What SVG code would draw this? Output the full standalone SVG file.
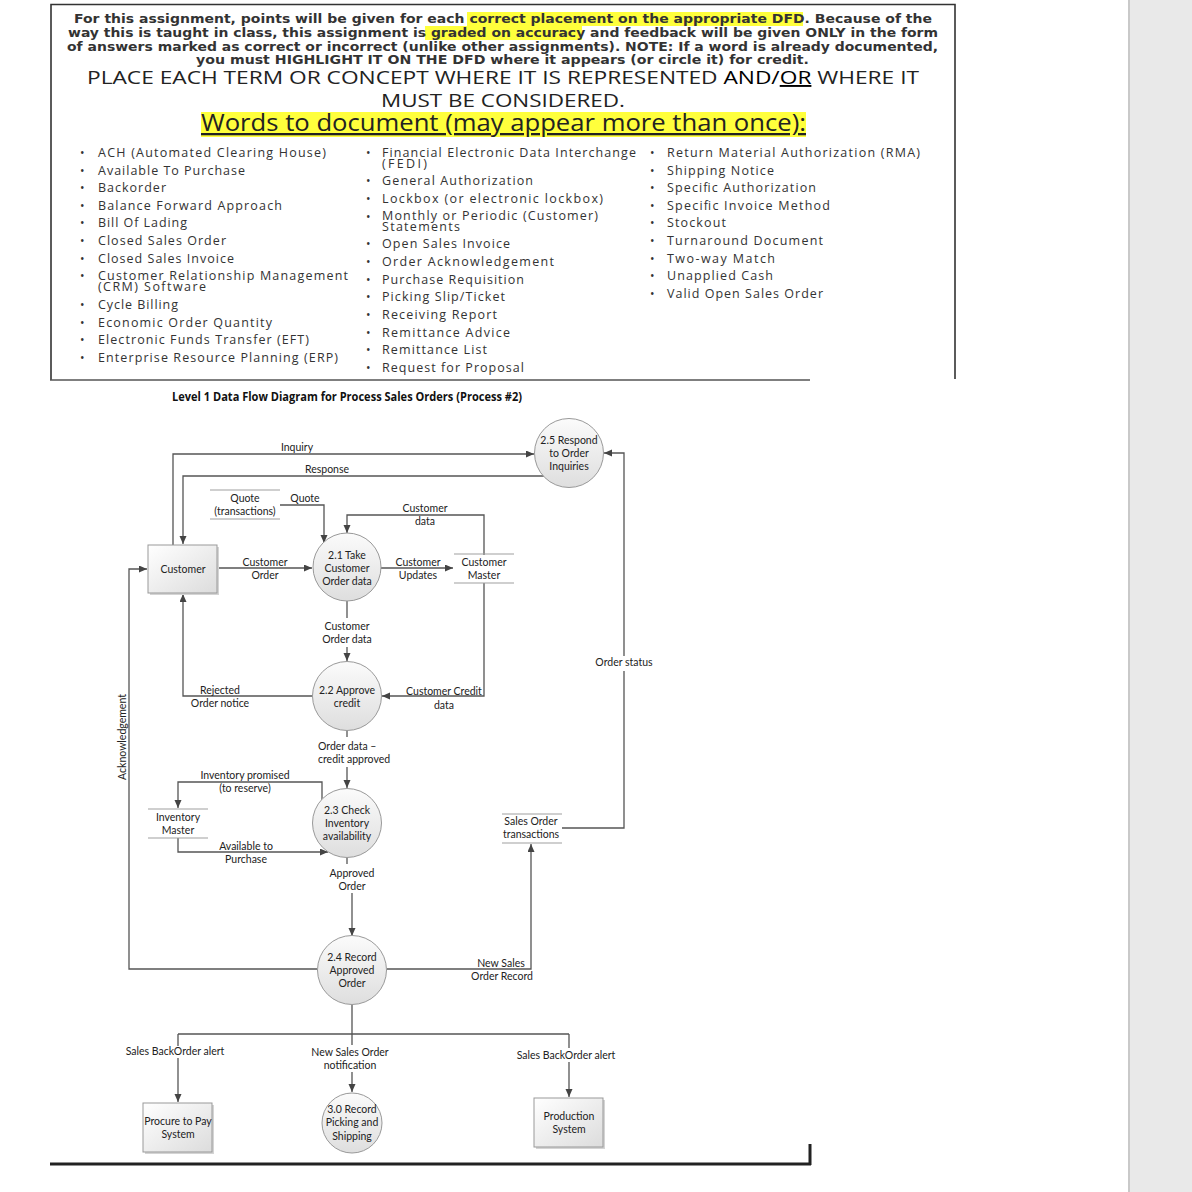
<svg xmlns="http://www.w3.org/2000/svg" width="1192" height="1192" viewBox="0 0 1192 1192">
<defs>
<linearGradient id="gc" x1="0" y1="0" x2="0" y2="1"><stop offset="0" stop-color="#fbfbfb"/><stop offset="1" stop-color="#dedede"/></linearGradient>
<linearGradient id="gb" x1="0" y1="0" x2="1" y2="1"><stop offset="0" stop-color="#ffffff"/><stop offset="1" stop-color="#dcdcdc"/></linearGradient>
<marker id="ar" markerUnits="userSpaceOnUse" markerWidth="9" markerHeight="8" refX="8" refY="3.5" orient="auto"><path d="M0,0 L8,3.5 L0,7 z" fill="#444"/></marker>
</defs>
<style>
.hd{font-family:"DejaVu Sans",Verdana,sans-serif;font-weight:bold;font-size:12.5px;fill:#333}
.big{font-family:"Open Sans","Noto Sans",sans-serif;fill:#222}
.li{font-family:"Open Sans","Noto Sans",sans-serif;font-size:12.5px;fill:#333}
.bu{font-family:"Open Sans",sans-serif;font-size:12px;fill:#333}
.t{font-family:Lato,"Liberation Sans",sans-serif;font-size:10.5px;fill:#222;text-anchor:middle}
.c{fill:none;stroke:#555;stroke-width:1.3}
.ca{fill:none;stroke:#555;stroke-width:1.3;marker-end:url(#ar)}
.st{stroke:#a0a0a0;stroke-width:1.2}
.proc{fill:url(#gc);stroke:#999;stroke-width:1}
.ent{fill:url(#gb);stroke:#999;stroke-width:1}
</style>
<rect x="0" y="0" width="1192" height="1192" fill="#fff"/>
<rect x="1128" y="0" width="64" height="1192" fill="#e9e9e9"/>
<rect x="1128" y="0" width="2" height="1192" fill="#c9c9c9"/>

<g id="header">
<path d="M51,380 V4.5 H955 V379" fill="none" stroke="#333" stroke-width="1.6"/>
<line x1="50" y1="380" x2="810" y2="380" stroke="#555" stroke-width="1.3"/>
<rect x="467" y="12" width="336" height="14" fill="#ffff3c"/>
<rect x="425" y="26" width="157" height="14" fill="#ffff3c"/>
<text class="hd" x="74" y="23" textLength="858" lengthAdjust="spacingAndGlyphs">For this assignment, points will be given for each correct placement on the appropriate DFD.  Because of the</text>
<text class="hd" x="68" y="37" textLength="870" lengthAdjust="spacingAndGlyphs">way this is taught in class, this assignment is graded on accuracy and feedback will be given ONLY in the form</text>
<text class="hd" x="67" y="51" textLength="871" lengthAdjust="spacingAndGlyphs">of answers marked as correct or incorrect (unlike other assignments).  NOTE: If a word is already documented,</text>
<text class="hd" x="196" y="64" textLength="613" lengthAdjust="spacingAndGlyphs">you must HIGHLIGHT IT ON THE DFD where it appears (or circle it) for credit.</text>
<text class="big" x="87" y="84" font-size="19" textLength="832" lengthAdjust="spacingAndGlyphs">PLACE EACH TERM OR CONCEPT WHERE IT IS REPRESENTED <tspan fill="#000">AND/<tspan text-decoration="underline">OR</tspan></tspan> WHERE IT</text>
<text class="big" x="381" y="107" font-size="19" textLength="244" lengthAdjust="spacingAndGlyphs">MUST BE CONSIDERED.</text>
<rect x="201" y="112" width="605" height="25" fill="#ffff3c"/>
<text class="big" x="201" y="131" font-size="23" fill="#2e3640" textLength="605" lengthAdjust="spacingAndGlyphs" text-decoration="underline">Words to document (may appear more than once):</text>
</g>

<g id="list1">
<text class="bu" x="80" y="157">•</text><text class="li" x="98" y="157" textLength="228">ACH (Automated Clearing House)</text>
<text class="bu" x="80" y="175">•</text><text class="li" x="98" y="175" textLength="147">Available To Purchase</text>
<text class="bu" x="80" y="192">•</text><text class="li" x="98" y="192" textLength="68">Backorder</text>
<text class="bu" x="80" y="210">•</text><text class="li" x="98" y="210" textLength="184">Balance Forward Approach</text>
<text class="bu" x="80" y="227">•</text><text class="li" x="98" y="227" textLength="89">Bill Of Lading</text>
<text class="bu" x="80" y="245">•</text><text class="li" x="98" y="245" textLength="128">Closed Sales Order</text>
<text class="bu" x="80" y="263">•</text><text class="li" x="98" y="263" textLength="136">Closed Sales Invoice</text>
<text class="bu" x="80" y="280">•</text><text class="li" x="98" y="280" textLength="250">Customer Relationship Management</text>
<text class="li" x="98" y="291" textLength="108">(CRM) Software</text>
<text class="bu" x="80" y="309">•</text><text class="li" x="98" y="309" textLength="80">Cycle Billing</text>
<text class="bu" x="80" y="327">•</text><text class="li" x="98" y="327" textLength="174">Economic Order Quantity</text>
<text class="bu" x="80" y="344">•</text><text class="li" x="98" y="344" textLength="211">Electronic Funds Transfer (EFT)</text>
<text class="bu" x="80" y="362">•</text><text class="li" x="98" y="362" textLength="240">Enterprise Resource Planning (ERP)</text>
</g>

<g id="list2">
<text class="bu" x="366" y="157">•</text><text class="li" x="382" y="157" textLength="254">Financial Electronic Data Interchange</text>
<text class="li" x="382" y="168" textLength="45">(FEDI)</text>
<text class="bu" x="366" y="185">•</text><text class="li" x="382" y="185" textLength="151">General Authorization</text>
<text class="bu" x="366" y="203">•</text><text class="li" x="382" y="203" textLength="221">Lockbox (or electronic lockbox)</text>
<text class="bu" x="366" y="221">•</text><text class="li" x="382" y="220" textLength="216">Monthly or Periodic (Customer)</text>
<text class="li" x="382" y="231" textLength="78">Statements</text>
<text class="bu" x="366" y="248">•</text><text class="li" x="382" y="248" textLength="128">Open Sales Invoice</text>
<text class="bu" x="366" y="266">•</text><text class="li" x="382" y="266" textLength="172">Order Acknowledgement</text>
<text class="bu" x="366" y="284">•</text><text class="li" x="382" y="284" textLength="142">Purchase Requisition</text>
<text class="bu" x="366" y="301">•</text><text class="li" x="382" y="301" textLength="123">Picking Slip/Ticket</text>
<text class="bu" x="366" y="319">•</text><text class="li" x="382" y="319" textLength="115">Receiving Report</text>
<text class="bu" x="366" y="337">•</text><text class="li" x="382" y="337" textLength="128">Remittance Advice</text>
<text class="bu" x="366" y="354">•</text><text class="li" x="382" y="354" textLength="105">Remittance List</text>
<text class="bu" x="366" y="372">•</text><text class="li" x="382" y="372" textLength="142">Request for Proposal</text>
</g>

<g id="list3">
<text class="bu" x="650" y="157">•</text><text class="li" x="667" y="157" textLength="253">Return Material Authorization (RMA)</text>
<text class="bu" x="650" y="175">•</text><text class="li" x="667" y="175" textLength="107">Shipping Notice</text>
<text class="bu" x="650" y="192">•</text><text class="li" x="667" y="192" textLength="149">Specific Authorization</text>
<text class="bu" x="650" y="210">•</text><text class="li" x="667" y="210" textLength="163">Specific Invoice Method</text>
<text class="bu" x="650" y="227">•</text><text class="li" x="667" y="227" textLength="59">Stockout</text>
<text class="bu" x="650" y="245">•</text><text class="li" x="667" y="245" textLength="156">Turnaround Document</text>
<text class="bu" x="650" y="263">•</text><text class="li" x="667" y="263" textLength="108">Two-way Match</text>
<text class="bu" x="650" y="280">•</text><text class="li" x="667" y="280" textLength="106">Unapplied Cash</text>
<text class="bu" x="650" y="298">•</text><text class="li" x="667" y="298" textLength="156">Valid Open Sales Order</text>
</g>

<g id="title">
<text x="172" y="401" font-family="'Open Sans',sans-serif" font-weight="bold" font-size="11.5" fill="#111" textLength="350" lengthAdjust="spacingAndGlyphs">Level 1 Data Flow Diagram for Process Sales Orders (Process #2)</text>
</g>

<g id="connectors">
<path class="ca" d="M173,545 V454 H534"/>
<path class="ca" d="M544,476 H183 V544"/>
<path class="ca" d="M280,505 H324 V543"/>
<path class="ca" d="M484,555 V515 H347 V533"/>
<path class="ca" d="M218,568 H312"/>
<path class="ca" d="M381,568 H453"/>
<path class="c" d="M562,828 H624 V671"/>
<path class="ca" d="M624,656 V453 H604"/>
<path class="c" d="M347,601 V618"/>
<path class="ca" d="M347,647 V661"/>
<path class="ca" d="M484,583 V696 H382"/>
<path class="ca" d="M312,696 H183 V594"/>
<path class="c" d="M347,730 V737"/>
<path class="ca" d="M347,767 V788"/>
<path class="ca" d="M322,800 V782 H178 V808"/>
<path class="ca" d="M178,838 V852 H328"/>
<path class="c" d="M347,858 V864"/>
<path class="ca" d="M352,893 V936"/>
<path class="ca" d="M317,969 H129 V569 H147"/>
<path class="ca" d="M387,969 H531 V844"/>
<path class="c" d="M352,1005 V1034 M178,1034 H569 M178,1034 V1046 M569,1034 V1048 M352,1034 V1045"/>
<path class="ca" d="M178,1058 V1102"/>
<path class="ca" d="M352,1072 V1092"/>
<path class="ca" d="M569,1062 V1097"/>
</g>

<g id="labels">
<text class="t" x="297" y="451">Inquiry</text>
<text class="t" x="327" y="473">Response</text>
<text class="t" x="305" y="502">Quote</text>
<text class="t" x="425" y="512">Customer</text><text class="t" x="425" y="525">data</text>
<text class="t" x="265" y="566">Customer</text><text class="t" x="265" y="579">Order</text>
<text class="t" x="418" y="566">Customer</text><text class="t" x="418" y="579">Updates</text>
<text class="t" x="624" y="666">Order status</text>
<text class="t" x="347" y="630">Customer</text><text class="t" x="347" y="643">Order data</text>
<text class="t" x="444" y="695">Customer Credit</text><text class="t" x="444" y="709">data</text>
<text class="t" x="220" y="694">Rejected</text><text class="t" x="220" y="707">Order notice</text>
<text class="t" x="318" y="750" style="text-anchor:start">Order data –</text><text class="t" x="318" y="763" style="text-anchor:start">credit approved</text>
<text class="t" x="245" y="779">Inventory promised</text><text class="t" x="245" y="792">(to reserve)</text>
<text class="t" x="246" y="850">Available to</text><text class="t" x="246" y="863">Purchase</text>
<text class="t" x="352" y="877">Approved</text><text class="t" x="352" y="890">Order</text>
<text class="t" transform="translate(126,737) rotate(-90)">Acknowledgement</text>
<text class="t" x="501" y="967">New Sales</text><text class="t" x="502" y="980">Order Record</text>
<text class="t" x="175" y="1055">Sales BackOrder alert</text>
<text class="t" x="350" y="1056">New Sales Order</text><text class="t" x="350" y="1069">notification</text>
<text class="t" x="566" y="1059">Sales BackOrder alert</text>
</g>

<g id="customer">
<rect x="150" y="547" width="69" height="48" fill="#d4d4d4"/>
<rect class="ent" x="148" y="545" width="69" height="48"/>
<text class="t" x="183" y="573">Customer</text>
</g>
<g id="quote-store">
<line class="st" x1="210" y1="490" x2="280" y2="490"/><line class="st" x1="210" y1="519" x2="280" y2="519"/>
<text class="t" x="245" y="502">Quote</text><text class="t" x="245" y="515">(transactions)</text>
</g>
<g id="p2-1">
<circle class="proc" cx="347" cy="567" r="34"/>
<text class="t" x="347" y="559">2.1 Take</text><text class="t" x="347" y="572">Customer</text><text class="t" x="347" y="585">Order data</text>
</g>
<g id="customer-master">
<line class="st" x1="454" y1="554" x2="514" y2="554"/><line class="st" x1="454" y1="583" x2="514" y2="583"/>
<text class="t" x="484" y="566">Customer</text><text class="t" x="484" y="579">Master</text>
</g>
<g id="p2-5">
<circle class="proc" cx="569" cy="453" r="34.5"/>
<text class="t" x="569" y="444">2.5 Respond</text><text class="t" x="569" y="457">to Order</text><text class="t" x="569" y="470">Inquiries</text>
</g>
<g id="p2-2">
<circle class="proc" cx="347" cy="696" r="34.5"/>
<text class="t" x="347" y="694">2.2  Approve</text><text class="t" x="347" y="707">credit</text>
</g>
<g id="p2-3">
<circle class="proc" cx="347" cy="823" r="34.5"/>
<text class="t" x="347" y="814">2.3 Check</text><text class="t" x="347" y="827">Inventory</text><text class="t" x="347" y="840">availability</text>
</g>
<g id="inventory-master">
<line class="st" x1="148" y1="809" x2="208" y2="809"/><line class="st" x1="148" y1="838" x2="208" y2="838"/>
<text class="t" x="178" y="821">Inventory</text><text class="t" x="178" y="834">Master</text>
</g>
<g id="sales-order-transactions">
<line class="st" x1="502" y1="814" x2="562" y2="814"/><line class="st" x1="502" y1="843" x2="562" y2="843"/>
<text class="t" x="531" y="825">Sales Order</text><text class="t" x="531" y="838">transactions</text>
</g>
<g id="p2-4">
<circle class="proc" cx="352" cy="970" r="34.5"/>
<text class="t" x="352" y="961">2.4 Record</text><text class="t" x="352" y="974">Approved</text><text class="t" x="352" y="987">Order</text>
</g>
<g id="procure-to-pay">
<rect x="145" y="1105" width="69" height="49" fill="#d4d4d4"/>
<rect class="ent" x="143" y="1103" width="69" height="49"/>
<text class="t" x="178" y="1125">Procure to Pay</text><text class="t" x="178" y="1138">System</text>
</g>
<g id="p3-0">
<circle class="proc" cx="352" cy="1123" r="30"/>
<text class="t" x="352" y="1113">3.0 Record</text><text class="t" x="352" y="1126">Picking and</text><text class="t" x="352" y="1140">Shipping</text>
</g>
<g id="production-system">
<rect x="536" y="1100" width="69" height="49" fill="#d4d4d4"/>
<rect class="ent" x="534" y="1098" width="69" height="49"/>
<text class="t" x="569" y="1120">Production</text><text class="t" x="569" y="1133">System</text>
</g>

<g id="frame-bottom">
<path d="M50,1164 H811 M810,1144 V1165" fill="none" stroke="#222" stroke-width="3"/>
</g>
</svg>
